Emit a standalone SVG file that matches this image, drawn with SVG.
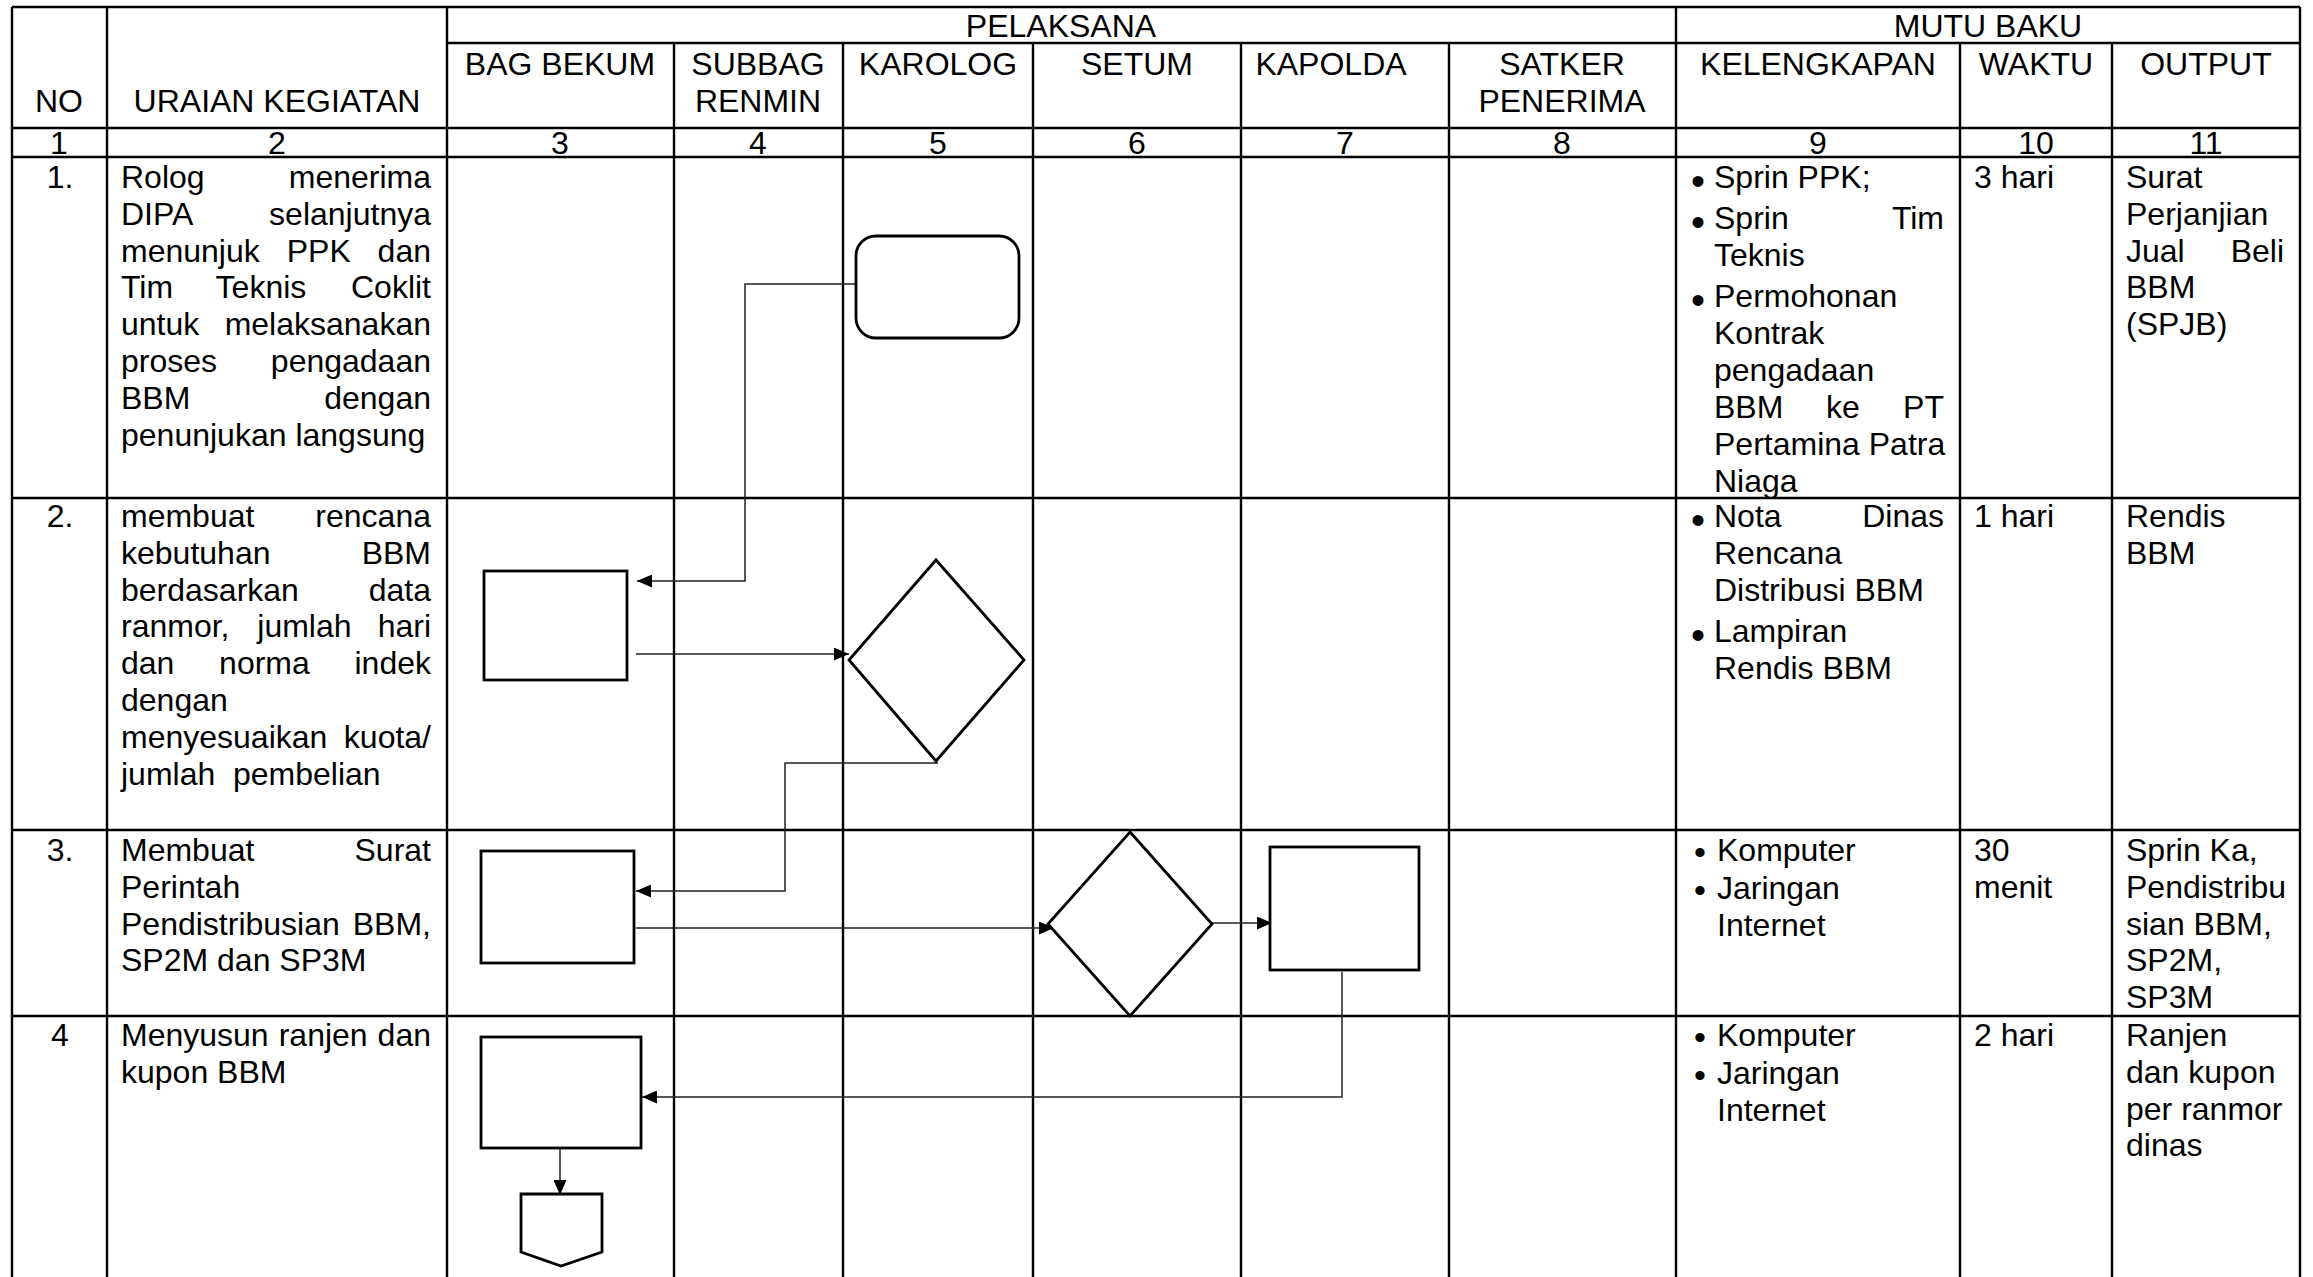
<svg xmlns="http://www.w3.org/2000/svg" width="2313" height="1277" viewBox="0 0 2313 1277">
<style>
.t{font-family:"Liberation Sans",Arial,sans-serif;font-size:32px;fill:#000}
.c{text-anchor:middle}
.e{text-anchor:end}
.b{font-family:"Liberation Sans",Arial,sans-serif;font-size:40px;fill:#000}
.b2{font-family:"Liberation Sans",Arial,sans-serif;font-size:34px;fill:#000}
.g line{stroke:#000;stroke-width:2.4}
.s{fill:#fff;stroke:#000;stroke-width:2.8}
.k{fill:none;stroke:#222;stroke-width:1.5}
</style>
<defs>
<marker id="ar" markerUnits="userSpaceOnUse" markerWidth="15" markerHeight="13" refX="15" refY="6.5" orient="auto">
<path d="M0,0 L15,6.5 L0,13 z" fill="#000"/>
</marker>
</defs>
<rect width="2313" height="1277" fill="#fff"/>
<g id="table" class="g">
<line x1="12" y1="7" x2="2300" y2="7"/>
<line x1="447" y1="43" x2="2300" y2="43"/>
<line x1="12" y1="128" x2="2300" y2="128"/>
<line x1="12" y1="157" x2="2300" y2="157"/>
<line x1="12" y1="498" x2="2300" y2="498"/>
<line x1="12" y1="830" x2="2300" y2="830"/>
<line x1="12" y1="1016" x2="2300" y2="1016"/>
<line x1="12" y1="7" x2="12" y2="1277"/>
<line x1="107" y1="7" x2="107" y2="1277"/>
<line x1="447" y1="7" x2="447" y2="1277"/>
<line x1="674" y1="43" x2="674" y2="1277"/>
<line x1="843" y1="43" x2="843" y2="1277"/>
<line x1="1033" y1="43" x2="1033" y2="1277"/>
<line x1="1241" y1="43" x2="1241" y2="1277"/>
<line x1="1449" y1="43" x2="1449" y2="1277"/>
<line x1="1676" y1="7" x2="1676" y2="1277"/>
<line x1="1960" y1="43" x2="1960" y2="1277"/>
<line x1="2112" y1="43" x2="2112" y2="1277"/>
<line x1="2300" y1="7" x2="2300" y2="1277"/>
</g>
<g id="header" class="t c">
<text x="1061" y="37">PELAKSANA</text>
<text x="1988" y="37">MUTU BAKU</text>
<text x="59" y="112">NO</text>
<text x="277" y="112">URAIAN KEGIATAN</text>
<text x="560" y="75">BAG BEKUM</text>
<text x="758" y="75">SUBBAG</text>
<text x="758" y="112">RENMIN</text>
<text x="938" y="75">KAROLOG</text>
<text x="1137" y="75">SETUM</text>
<text x="1331" y="75">KAPOLDA</text>
<text x="1562" y="75">SATKER</text>
<text x="1562" y="112">PENERIMA</text>
<text x="1818" y="75">KELENGKAPAN</text>
<text x="2036" y="75">WAKTU</text>
<text x="2206" y="75">OUTPUT</text>
<text x="59" y="154">1</text>
<text x="277" y="154">2</text>
<text x="560" y="154">3</text>
<text x="758" y="154">4</text>
<text x="938" y="154">5</text>
<text x="1137" y="154">6</text>
<text x="1345" y="154">7</text>
<text x="1562" y="154">8</text>
<text x="1818" y="154">9</text>
<text x="2036" y="154">10</text>
<text x="2206" y="154">11</text>
</g>
<g id="row1" class="t">
<text x="60" y="188" class="c">1.</text>
<text x="121" y="188">Rolog</text><text x="431" y="188" class="e">menerima</text>
<text x="121" y="224.8">DIPA</text><text x="431" y="224.8" class="e">selanjutnya</text>
<text x="121" y="261.6">menunjuk</text><text x="286.7" y="261.6">PPK</text><text x="431" y="261.6" class="e">dan</text>
<text x="121" y="298.4">Tim</text><text x="215.6" y="298.4">Teknis</text><text x="431" y="298.4" class="e">Coklit</text>
<text x="121" y="335.2">untuk</text><text x="431" y="335.2" class="e">melaksanakan</text>
<text x="121" y="372">proses</text><text x="431" y="372" class="e">pengadaan</text>
<text x="121" y="408.8">BBM</text><text x="431" y="408.8" class="e">dengan</text>
<text x="121" y="445.6">penunjukan langsung</text>
<text x="1691" y="195" class="b">•</text>
<text x="1714" y="188">Sprin PPK;</text>
<text x="1691" y="236" class="b">•</text>
<text x="1714" y="229">Sprin</text><text x="1944" y="229" class="e">Tim</text>
<text x="1714" y="266">Teknis</text>
<text x="1691" y="314" class="b">•</text>
<text x="1714" y="307">Permohonan</text>
<text x="1714" y="344">Kontrak</text>
<text x="1714" y="381">pengadaan</text>
<text x="1714" y="418">BBM</text><text x="1826" y="418">ke</text><text x="1944" y="418" class="e">PT</text>
<text x="1714" y="455">Pertamina Patra</text>
<text x="1714" y="492">Niaga</text>
<text x="1974" y="188">3 hari</text>
<text x="2126" y="188">Surat</text>
<text x="2126" y="224.8">Perjanjian</text>
<text x="2126" y="261.6">Jual</text><text x="2284" y="261.6" class="e">Beli</text>
<text x="2126" y="298.4">BBM</text>
<text x="2126" y="335.2">(SPJB)</text>
</g>
<g id="row2" class="t">
<text x="60" y="527" class="c">2.</text>
<text x="121" y="527">membuat</text><text x="431" y="527" class="e">rencana</text>
<text x="121" y="563.8">kebutuhan</text><text x="431" y="563.8" class="e">BBM</text>
<text x="121" y="600.6">berdasarkan</text><text x="431" y="600.6" class="e">data</text>
<text x="121" y="637.4">ranmor,</text><text x="257.3" y="637.4">jumlah</text><text x="431" y="637.4" class="e">hari</text>
<text x="121" y="674.2">dan</text><text x="219.1" y="674.2">norma</text><text x="431" y="674.2" class="e">indek</text>
<text x="121" y="711">dengan</text>
<text x="121" y="747.8">menyesuaikan</text><text x="431" y="747.8" class="e">kuota/</text>
<text x="121" y="784.6">jumlah</text><text x="233" y="784.6">pembelian</text>
<text x="1691" y="534" class="b">•</text>
<text x="1714" y="527">Nota</text><text x="1944" y="527" class="e">Dinas</text>
<text x="1714" y="564">Rencana</text>
<text x="1714" y="601">Distribusi BBM</text>
<text x="1691" y="649" class="b">•</text>
<text x="1714" y="642">Lampiran</text>
<text x="1714" y="679">Rendis BBM</text>
<text x="1974" y="527">1 hari</text>
<text x="2126" y="527">Rendis</text>
<text x="2126" y="563.8">BBM</text>
</g>
<g id="row3" class="t">
<text x="60" y="861" class="c">3.</text>
<text x="121" y="861">Membuat</text><text x="431" y="861" class="e">Surat</text>
<text x="121" y="897.8">Perintah</text>
<text x="121" y="934.6">Pendistribusian</text><text x="431" y="934.6" class="e">BBM,</text>
<text x="121" y="971.4">SP2M dan SP3M</text>
<text x="1694" y="864" class="b2">•</text>
<text x="1717" y="861">Komputer</text>
<text x="1694" y="902" class="b2">•</text>
<text x="1717" y="899">Jaringan</text>
<text x="1717" y="936">Internet</text>
<text x="1974" y="861">30</text>
<text x="1974" y="897.8">menit</text>
<text x="2126" y="861">Sprin Ka,</text>
<text x="2126" y="897.8">Pendistribu</text>
<text x="2126" y="934.6">sian BBM,</text>
<text x="2126" y="971.4">SP2M,</text>
<text x="2126" y="1008.2">SP3M</text>
</g>
<g id="row4" class="t">
<text x="60" y="1046" class="c">4</text>
<text x="121" y="1046">Menyusun</text><text x="278.7" y="1046">ranjen</text><text x="431" y="1046" class="e">dan</text>
<text x="121" y="1082.8">kupon BBM</text>
<text x="1694" y="1049" class="b2">•</text>
<text x="1717" y="1046">Komputer</text>
<text x="1694" y="1087" class="b2">•</text>
<text x="1717" y="1084">Jaringan</text>
<text x="1717" y="1121">Internet</text>
<text x="1974" y="1046">2 hari</text>
<text x="2126" y="1046">Ranjen</text>
<text x="2126" y="1082.8">dan kupon</text>
<text x="2126" y="1119.6">per ranmor</text>
<text x="2126" y="1156.4">dinas</text>
</g>
<g id="connectors" class="k">
<path d="M856,284 H745 V581 H637" marker-end="url(#ar)"/>
<path d="M636,654 H849" marker-end="url(#ar)"/>
<path d="M938,763 H785 V891 H636" marker-end="url(#ar)"/>
<path d="M636,928 H1054" marker-end="url(#ar)"/>
<path d="M1212,923 H1272" marker-end="url(#ar)"/>
<path d="M1342,972 V1097 H642" marker-end="url(#ar)"/>
<path d="M560,1149 V1195" marker-end="url(#ar)"/>
</g>
<g id="n1"><rect class="s" x="856" y="236" width="163" height="102" rx="20"/></g>
<g id="n2"><rect class="s" x="484" y="571" width="143" height="109"/></g>
<g id="n3"><polygon class="s" points="936,560 1024,660 936,761 849,660"/></g>
<g id="n4"><rect class="s" x="481" y="851" width="153" height="112"/></g>
<g id="n5"><polygon class="s" points="1130,832 1212,924 1130,1016 1048,924"/></g>
<g id="n6"><rect class="s" x="1270" y="847" width="149" height="123"/></g>
<g id="n7"><rect class="s" x="481" y="1037" width="160" height="111"/></g>
<g id="n8"><polygon class="s" points="521,1194 602,1194 602,1252 561,1266 521,1252"/></g>
</svg>
